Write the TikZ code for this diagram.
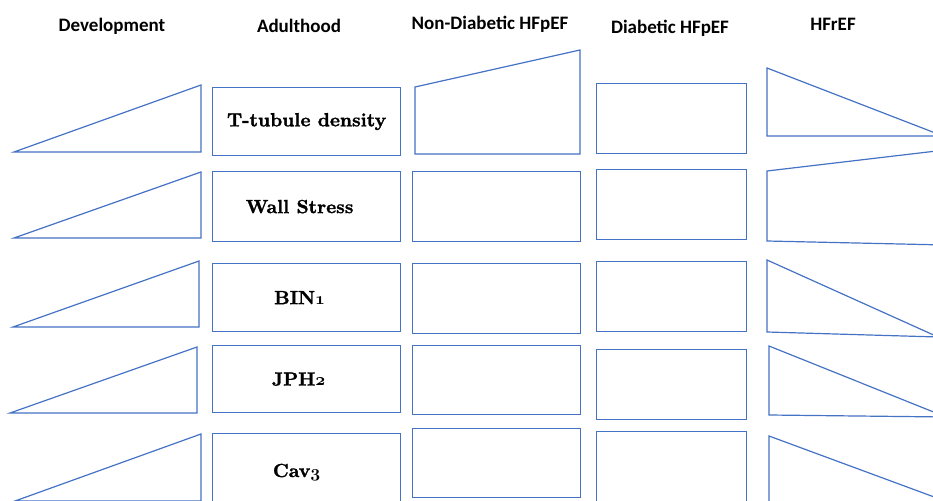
\documentclass[tikz,border=0pt]{standalone}
\usepackage{fontspec}
\setmainfont{Latin Modern Roman}
\newfontfamily\headfont{Carlito}
\newfontfamily\tagfont{lmroman10-bold.otf}[FakeBold=1.5]
\newcommand\osnum[1]{{\usefont{OML}{cmm}{b}{it}#1}}
\definecolor{edgeblue}{HTML}{4472C4}

\begin{document}
\begin{tikzpicture}[x=1pt,y=-1pt,
    head/.style={font=\headfont\bfseries\fontsize{19}{21}\selectfont, anchor=center},
    cell/.style={rectangle, draw=edgeblue, line width=1.2pt, anchor=north west, inner sep=0pt,
      font=\tagfont\fontsize{19}{21}\selectfont},
    wedge/.style={draw=edgeblue, line width=1.2pt}]
      \useasboundingbox (0,0) rectangle (933,500);
      \clip (0,0) rectangle (933,500);

      \node[head] (hdev) at (112,26) {Development};
      \node[head] (hadu) at (299,26) {Adulthood};
      \node[head] (hnon) at (490,24) {Non-Diabetic HFpEF};
      \node[head] (hdia) at (670,28) {Diabetic HFpEF};
      \node[head] (href) at (833,24) {HFrEF};

      \draw[wedge] (14,152) -- (201,85) -- (201,152) -- cycle;
      \draw[wedge] (14,238) -- (201,172) -- (201,238) -- cycle;
      \draw[wedge] (13,327) -- (199,261) -- (199,327) -- cycle;
      \draw[wedge] (10,413) -- (197,347) -- (197,413) -- cycle;
      \draw[wedge] (15,501) -- (201,434) -- (201,501) -- cycle;

      \node[cell, minimum width=188, minimum height=68] (adu1) at (212,87) {T-tubule density};
      \node[cell, minimum width=188, minimum height=70] (adu2) at (212,171) {Wall Stress\hspace*{14pt}};
      \node[cell, minimum width=188, minimum height=68] (adu3) at (212,263) {BIN\osnum{1}\hspace*{14pt}};
      \node[cell, minimum width=188, minimum height=67] (adu4) at (212,345) {JPH\osnum{2}\hspace*{16pt}};
      \node[cell, minimum width=188, minimum height=77] (adu5) at (212,433) {Cav\osnum{3}\hspace*{20pt}};

      \draw[wedge] (415,87) -- (580,50) -- (580,154) -- (415,154) -- cycle;
      \node[cell, minimum width=168, minimum height=70] (non2) at (412,171) {};
      \node[cell, minimum width=168, minimum height=70] (non3) at (412,263) {};
      \node[cell, minimum width=168, minimum height=69] (non4) at (412,345) {};
      \node[cell, minimum width=168, minimum height=69] (non5) at (412,428) {};

      \node[cell, minimum width=150, minimum height=70] (dia1) at (596,83) {};
      \node[cell, minimum width=150, minimum height=70] (dia2) at (596,169) {};
      \node[cell, minimum width=150, minimum height=70] (dia3) at (596,261) {};
      \node[cell, minimum width=150, minimum height=70] (dia4) at (596,349) {};
      \node[cell, minimum width=150, minimum height=79] (dia5) at (596,431) {};

      \draw[wedge] (767,68) -- (943,136) -- (767,136) -- cycle;
      \draw[wedge] (767,171) -- (945,150) -- (945,245) -- (767,241) -- cycle;
      \draw[wedge] (767,260) -- (938,337) -- (767,332) -- cycle;
      \draw[wedge] (769,346) -- (946,417) -- (769,415) -- cycle;
      \draw[wedge] (769,436) -- (945,501) -- (769,510) -- cycle;
\end{tikzpicture}
\end{document}
